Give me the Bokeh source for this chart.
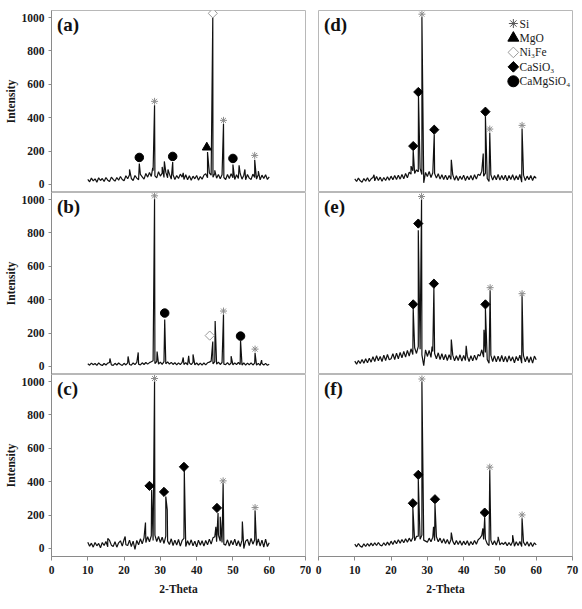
from math import pi

from bokeh.core.properties import value
from bokeh.embed import file_html
from bokeh.layouts import column, row
from bokeh.models import FixedTicker
from bokeh.plotting import figure
from bokeh.resources import INLINE

SERIF = "Liberation Serif"

# 2-theta sampling of the background scans (10 to 60 deg, 0.5 deg steps)
TWO_THETA = [10 + 0.5 * i for i in range(101)]

X_TICKS = [0, 10, 20, 30, 40, 50, 60, 70]
Y_TICKS = [0, 200, 400, 600, 800, 1000]

# ---- (a) ----
A_BASE = [
    30, 16, 38, 22, 34, 14, 40, 24, 36, 18,
    42, 26, 18, 44, 30, 20, 42, 26, 48, 30,
    22, 52, 34, 58, 36, 24, 54, 38, 28, 60,
    46, 32, 66, 44, 72, 48, 82, 52, 40, 76,
    50, 68, 42, 74, 40, 62, 32, 58, 30, 54,
    36, 62, 44, 30, 58, 28, 52, 26, 50, 34,
    54, 26, 48, 32, 56, 64, 40, 70, 56, 44,
    66, 38, 60, 34, 58, 42, 30, 60, 36, 64,
    40, 30, 58, 36, 66, 32, 56, 28, 60, 38,
    30, 62, 42, 32, 60, 28, 56, 36, 58, 30, 45,
]
A_PEAKS = [
    (21.5, 90), (24.2, 125), (27.9, 100), (28.4, 474), (30.5, 105),
    (31.1, 138), (32.1, 90), (33.4, 134), (36.3, 70), (43.0, 194),
    (44.45, 1008), (45.0, 85), (47.4, 364), (50.0, 120), (51.7, 115),
    (53.3, 90), (56.0, 148), (57.0, 80),
]
A_MARKS = [
    ("CaMgSiO4", 24.2, 162), ("Si", 28.4, 498), ("CaMgSiO4", 33.4, 168),
    ("MgO", 42.8, 222), ("Ni3Fe", 44.45, 1025), ("Si", 47.4, 384),
    ("CaMgSiO4", 50.0, 156), ("Si", 56.0, 174),
]

# ---- (b) ----
B_BASE = [
    16, 8, 20, 10, 18, 7, 21, 11, 6, 18,
    9, 20, 24, 10, 7, 19, 9, 21, 12, 6,
    19, 9, 22, 12, 8, 21, 11, 24, 14, 9,
    22, 12, 24, 14, 23, 28, 34, 18, 30, 14,
    26, 13, 29, 16, 28, 14, 25, 12, 23, 10,
    22, 11, 24, 12, 23, 10, 22, 11, 24, 10,
    21, 9, 20, 8, 21, 10, 22, 26, 32, 16,
    29, 14, 26, 12, 24, 14, 11, 23, 10, 21,
    9, 22, 11, 24, 12, 9, 21, 8, 20, 10,
    22, 9, 20, 8, 19, 7, 18, 8, 19, 7, 13,
]
B_PEAKS = [
    (16.1, 48), (21.1, 60), (23.9, 84), (28.4, 1005), (29.1, 90),
    (31.2, 282), (36.3, 54), (37.8, 64), (39.0, 72), (44.45, 150),
    (45.1, 272), (47.4, 312), (49.5, 62), (52.1, 156), (56.1, 80),
    (57.9, 38),
]
B_MARKS = [
    ("Si", 28.4, 1022), ("CaMgSiO4", 31.2, 320), ("Ni3Fe", 43.6, 185),
    ("Si", 47.4, 332), ("CaMgSiO4", 52.1, 182), ("Si", 56.1, 104),
]

# ---- (c) ----
C_BASE = [
    38, 14, 32, 8, 36, 16, 30, 4, 36, 18,
    42, 10, 48, 20, 12, 40, 8, 34, 46, 14,
    54, 22, 18, 50, 12, 44, -5, 48, 22, 58,
    28, 64, 36, 70, 40, 76, 48, 80, 42, 72,
    36, 68, 30, 74, 44, 24, 58, 18, 50, 20,
    54, 14, 48, 60, 12, 46, 20, 52, 16, 44,
    10, 50, 20, 46, 14, 48, 22, 56, 26, 64,
    70, 40, 80, 44, 36, 26, 20, 52, 14, 48,
    22, 56, 16, 46, 12, 50, 0, 44, 54, 18,
    60, 26, 52, 18, 58, 14, 50, 8, 56, 12, 35,
]
C_PEAKS = [
    (15.5, 60), (20.3, 72), (25.9, 155), (27.6, 351), (28.4, 1005),
    (31.5, 311), (31.9, 231), (36.6, 467), (45.3, 130), (45.9, 212),
    (46.5, 190), (47.3, 393), (52.6, 161), (56.1, 227),
]
C_MARKS = [
    ("CaSiO3", 27.0, 375), ("Si", 28.4, 1018), ("CaSiO3", 31.0, 339),
    ("CaSiO3", 36.5, 489), ("CaSiO3", 45.6, 243), ("Si", 47.3, 405),
    ("Si", 56.1, 245),
]

# ---- (d) ----
D_BASE = [
    34, 18, 38, 22, 14, 36, 20, 40, 18, 34,
    42, 22, 48, 24, 44, 20, 42, 24, 46, 26,
    50, 28, 54, 30, 56, 32, 60, 34, 66, 40,
    74, 62, 82, 66, 88, 76, 96, 60, 10, 72,
    48, 78, 42, 70, 66, 38, 64, 32, 58, 30,
    56, 28, 54, 32, 58, 26, 52, 24, 50, 30,
    56, 24, 50, 28, 54, 26, 58, 32, 62, 54,
    80, 50, 68, 36, 18, 58, 26, 54, 28, 60,
    26, 54, 28, 56, 22, 54, 30, 58, 26, 52,
    28, 60, 14, 56, 24, 50, 28, 54, 24, 50, 36,
]
D_PEAKS = [
    (15.3, 58), (25.5, 110), (26.1, 204), (27.55, 534), (28.5, 1005),
    (31.9, 300), (36.6, 148), (45.4, 186), (46.0, 408), (47.2, 310),
    (56.1, 334),
]
D_MARKS = [
    ("CaSiO3", 26.1, 230), ("CaSiO3", 27.5, 554), ("Si", 28.5, 1020),
    ("CaSiO3", 31.9, 328), ("CaSiO3", 46.0, 436), ("Si", 47.2, 332),
    ("Si", 56.1, 354),
]

# ---- (e) ----
E_BASE = [
    32, 14, 36, 18, 42, 20, 46, 22, 50, 26,
    58, 30, 64, 34, 60, 30, 68, 36, 72, 40,
    46, 76, 42, 80, 46, 84, 52, 90, 56, 96,
    62, 106, 72, 112, 78, 120, 104, 70, 5, 100,
    60, 96, 54, 90, 78, 46, 82, 42, 76, 40,
    72, 36, 70, 40, 68, 34, 64, 36, 70, 32,
    66, 36, 62, 30, 64, 34, 68, 38, 72, 62,
    100, 56, 84, 42, 20, 68, 30, 64, 28, 62,
    30, 66, 28, 60, 26, 64, 32, 58, 22, 60,
    34, 68, 20, 64, 28, 60, 24, 58, 20, 62, 40,
]
E_PEAKS = [
    (26.1, 346), (27.5, 816), (28.4, 1005), (31.3, 120), (31.8, 470),
    (36.6, 162), (40.7, 124), (45.6, 220), (46.0, 346), (47.3, 456),
    (56.1, 426), (56.4, 90),
]
E_MARKS = [
    ("CaSiO3", 26.1, 372), ("CaSiO3", 27.5, 856), ("Si", 28.4, 1018),
    ("CaSiO3", 31.8, 496), ("CaSiO3", 46.0, 372), ("Si", 47.3, 472),
    ("Si", 56.1, 436),
]

# ---- (f) ----
F_BASE = [
    26, 10, 30, 14, 8, 28, 12, 30, 14, 32,
    16, 34, 18, 36, 20, 16, 34, 18, 38, 20,
    44, 24, 48, 28, 52, 32, 54, 34, 58, 38,
    62, 42, 66, 46, 72, 74, 56, 80, 50, 44,
    38, 62, 40, 68, 46, 70, 40, 62, 32, 58,
    30, 54, 26, 52, 44, 22, 48, 24, 46, 20,
    44, 22, 46, 18, 42, 22, 48, 26, 52, 62,
    78, 54, 56, 28, 18, 50, 22, 46, 20, 54,
    22, 34, 24, 38, 16, 36, 18, 42, 14, 40,
    18, 42, 12, 38, 18, 40, 14, 36, 12, 34, 22,
]
F_PEAKS = [
    (26.0, 247), (27.5, 415), (28.5, 1000), (31.7, 130), (32.1, 267),
    (36.6, 95), (45.3, 120), (45.8, 187), (47.2, 471), (49.5, 70),
    (53.5, 80), (56.1, 181),
]
F_MARKS = [
    ("CaSiO3", 26.0, 271), ("CaSiO3", 27.5, 441), ("Si", 28.5, 1015),
    ("CaSiO3", 32.1, 295), ("CaSiO3", 45.8, 215), ("Si", 47.2, 487),
    ("Si", 56.1, 201),
]

PHASES = ["Si", "MgO", "Ni3Fe", "CaSiO3", "CaMgSiO4"]
PHASE_NAMES = ["Si", "MgO", "Ni\u2083Fe", "CaSiO\u2083", "CaMgSiO\u2084"]

# marker look for each phase: (marker, size, angle, line colour, fill colour)
PEAK_STYLE = {
    "Si": ("asterisk", 7, 0.0, "#8c8c8c", None),
    "MgO": ("triangle", 9, 0.0, "black", "black"),
    "Ni3Fe": ("square", 6.5, pi / 4, "#9a9a9a", "white"),
    "CaSiO3": ("square", 6.5, pi / 4, "black", "black"),
    "CaMgSiO4": ("circle", 8.5, 0.0, "black", "black"),
}
KEY_STYLE = {
    "Si": ("asterisk", 9, 0.0, "#555555", None),
    "MgO": ("triangle", 11, 0.0, "black", "black"),
    "Ni3Fe": ("square", 7.5, pi / 4, "#9a9a9a", "white"),
    "CaSiO3": ("square", 7.5, pi / 4, "black", "black"),
    "CaMgSiO4": ("circle", 11, 0.0, "black", "black"),
}

FRAME_W, FRAME_H = 254, 182
AXIS_GREY = "#8a8a8a"
OUTLINE_GREY = "#b8b8b8"


def scan(base, peaks):
    """Merge the background scan with the peak maxima, ordered by 2-theta."""
    pts = sorted(list(zip(TWO_THETA, base)) + list(peaks), key=lambda t: t[0])
    return [t[0] for t in pts], [t[1] for t in pts]


def put_marker(p, phase, xs, ys, style):
    marker, size, angle, line, fill = style[phase]
    p.scatter(xs, ys, marker=marker, size=size, angle=angle,
              line_color=line, fill_color=fill, line_width=1)


def style_axis(ax, label):
    ax.axis_label = label
    ax.axis_label_text_font = SERIF
    ax.axis_label_text_font_style = "bold"
    ax.axis_label_text_font_size = "11.5px"
    ax.axis_label_text_color = "#1a1a1a"
    ax.major_label_text_font = SERIF
    ax.major_label_text_font_style = "bold"
    ax.major_label_text_font_size = "11.5px"
    ax.major_label_text_color = "#1a1a1a"
    ax.axis_line_color = AXIS_GREY
    ax.major_tick_line_color = AXIS_GREY
    ax.minor_tick_line_color = None
    ax.major_tick_in = 0


def panel(tag, base, peaks, marks, left, top, bottom):
    b_left = 51 if left else 7
    b_right = 6 if left else 10
    b_top = 10 if top else 0
    b_bottom = 53 if bottom else 0
    p = figure(
        width=b_left + FRAME_W + b_right,
        height=b_top + FRAME_H + b_bottom,
        x_range=(0, 70), y_range=(-48, 1042),
        x_axis_location="below" if bottom else None,
        y_axis_location="left" if left else None,
        min_border_left=b_left, min_border_right=b_right,
        min_border_top=b_top, min_border_bottom=b_bottom,
        output_backend="svg", toolbar_location=None,
    )
    p.xgrid.grid_line_color = None
    p.ygrid.grid_line_color = None
    p.outline_line_color = OUTLINE_GREY
    p.outline_line_width = 1
    p.background_fill_color = "white"
    p.border_fill_color = "white"

    if left:
        ax = p.yaxis[0]
        ax.ticker = FixedTicker(ticks=Y_TICKS)
        style_axis(ax, "Intensity")
        ax.major_tick_out = 3
        ax.major_label_standoff = 4
        ax.axis_label_standoff = 2
    if bottom:
        ax = p.xaxis[0]
        ax.ticker = FixedTicker(ticks=X_TICKS)
        style_axis(ax, "2-Theta")
        ax.major_tick_out = 4
        ax.major_label_standoff = 5
        ax.axis_label_standoff = 6

    xs, ys = scan(base, peaks)
    p.line(xs, ys, line_color="#111111", line_width=1.2)

    for phase in PHASES:
        mx = [m[1] for m in marks if m[0] == phase]
        my = [m[2] for m in marks if m[0] == phase]
        if mx:
            put_marker(p, phase, mx, my, PEAK_STYLE)

    p.text(x=[1.5], y=[1022], text=[tag], text_font=value(SERIF),
           text_font_style="bold", text_font_size="19px",
           text_baseline="top", text_color="#111111")
    return p


pa = panel("(a)", A_BASE, A_PEAKS, A_MARKS, left=True, top=True, bottom=False)
pb = panel("(b)", B_BASE, B_PEAKS, B_MARKS, left=True, top=False, bottom=False)
pc = panel("(c)", C_BASE, C_PEAKS, C_MARKS, left=True, top=False, bottom=True)
pd = panel("(d)", D_BASE, D_PEAKS, D_MARKS, left=False, top=True, bottom=False)
pe = panel("(e)", E_BASE, E_PEAKS, E_MARKS, left=False, top=False, bottom=False)
pf = panel("(f)", F_BASE, F_PEAKS, F_MARKS, left=False, top=False, bottom=True)

# phase key in the upper right of (d)
KEY_X, KEY_TEXT_X, KEY_TOP, KEY_STEP = 53.7, 55.4, 964, 86.5
for i, phase in enumerate(PHASES):
    put_marker(pd, phase, [KEY_X], [KEY_TOP - i * KEY_STEP], KEY_STYLE)
pd.text(x=[KEY_TEXT_X] * len(PHASES),
        y=[KEY_TOP - i * KEY_STEP for i in range(len(PHASES))],
        text=PHASE_NAMES, text_font=value(SERIF), text_font_size="11.5px",
        text_baseline="middle", text_color="#1a1a1a")

layout = row(column(pa, pb, pc), column(pd, pe, pf))

with open("out.html", "w") as fh:
    fh.write(file_html(layout, INLINE))
